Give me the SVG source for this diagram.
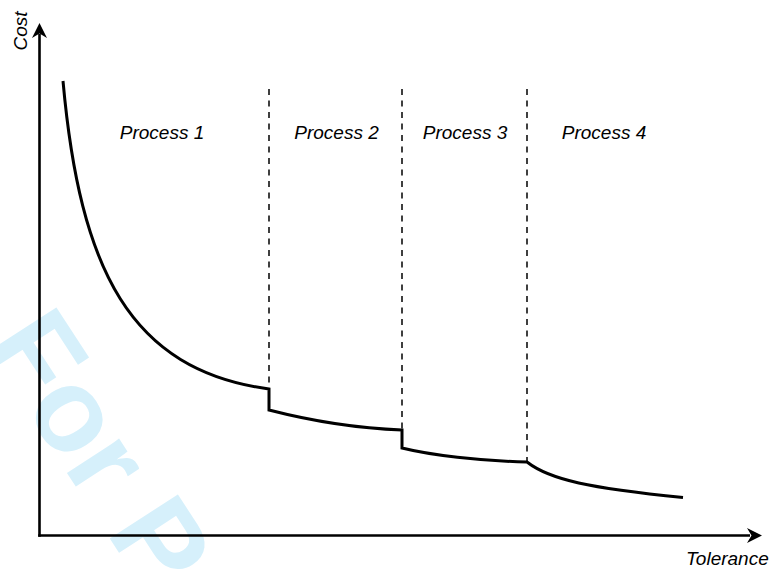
<svg xmlns="http://www.w3.org/2000/svg" width="775" height="571" viewBox="0 0 775 571">
  <style>
    .lbl { font-family: "Liberation Sans", Arial, sans-serif; font-style: italic; font-size: 19px; fill: #000; }
    .axis { stroke: #000; stroke-width: 2.6; fill: none; }
    .div { stroke: #000; stroke-width: 1.5; stroke-dasharray: 6 5.5; fill: none; }
    .curve { stroke: #000; stroke-width: 3; fill: none; stroke-linejoin: miter; }
    .wm { font-family: "Liberation Sans", Arial, sans-serif; font-weight: bold; font-size: 118px; fill: #d6f0fb; }
  </style>
  <defs>
    <path id="ah" d="M0,0 L-15,-7.5 L-10.5,0 L-15,7.5 Z" fill="#000"/>
  </defs>
  <rect width="775" height="571" fill="#fff"/>
  <text class="wm" transform="translate(-16,345) rotate(57)">For Peer Review</text>

  <g id="axes">
    <line class="axis" x1="39.5" y1="536.8" x2="39.5" y2="34"/>
    <use href="#ah" transform="translate(39.5,23) rotate(-90)"/>
    <line class="axis" x1="38.2" y1="535.5" x2="750" y2="535.5"/>
    <use href="#ah" transform="translate(762,535.5)"/>
  </g>

  <g id="connectors">
    <line class="div" x1="269" y1="89" x2="269" y2="389"/>
    <line class="div" x1="402" y1="89" x2="402" y2="430"/>
    <line class="div" x1="527" y1="89" x2="527" y2="462"/>
  </g>

  <g id="cost-curve">
    <path class="curve" d="M63,81 C80,270 130,370 269,389 L269,410 C300,418 350,428 402,430 L402,448 C430,455 480,461 527,462 C550,480 590,488 683,497.5"/>
  </g>

  <g id="process1"><text class="lbl" x="162" y="139" text-anchor="middle">Process 1</text></g>
  <g id="process2"><text class="lbl" x="336.5" y="139" text-anchor="middle">Process 2</text></g>
  <g id="process3"><text class="lbl" x="465" y="139" text-anchor="middle">Process 3</text></g>
  <g id="process4"><text class="lbl" x="604" y="139" text-anchor="middle">Process 4</text></g>

  <g id="label-cost"><text class="lbl" transform="translate(26.5,31) rotate(-90)" text-anchor="middle">Cost</text></g>
  <g id="label-tolerance"><text class="lbl" x="686" y="565">Tolerance</text></g>
</svg>
